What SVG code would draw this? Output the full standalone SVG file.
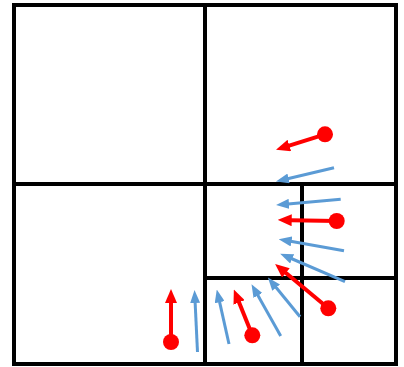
<svg xmlns="http://www.w3.org/2000/svg" width="404" height="367" viewBox="0 0 404 367">
<style>
.grid{fill:none;stroke:#000;stroke-width:4;stroke-linecap:square}
.r{stroke:#FF0000;stroke-width:4;fill:none;marker-end:url(#ahr)}
.b{stroke:#5B9BD5;stroke-width:3;fill:none;marker-end:url(#ahb)}
.dot{fill:#FF0000}
</style>
<defs>
<marker id="ahr" markerWidth="14" markerHeight="12" refX="1" refY="6" orient="auto" markerUnits="userSpaceOnUse"><path d="M0,0 L14,6 L0,12 z" fill="#FF0000"/></marker>
<marker id="ahb" markerWidth="13" markerHeight="10" refX="1" refY="5" orient="auto" markerUnits="userSpaceOnUse"><path d="M0,0 L13,5 L0,10 z" fill="#5B9BD5"/></marker>
</defs>
<rect width="404" height="367" fill="#fff"/>
<g id="grid">
<rect class="grid" x="14" y="5" width="382" height="359"/>
<line class="grid" x1="205" y1="5" x2="205" y2="364"/>
<line class="grid" x1="14" y1="184" x2="396" y2="184"/>
<line class="grid" x1="302" y1="184" x2="302" y2="364"/>
<line class="grid" x1="205" y1="278" x2="396" y2="278"/>
</g>
<g id="connectors">
<line class="r" x1="171" y1="342" x2="171" y2="302"/>
<line class="b" x1="197.5" y1="352" x2="195.1" y2="302"/>
<line class="b" x1="229" y1="344" x2="219.4" y2="301.2"/>
<line class="r" x1="252.3" y1="335.3" x2="238.7" y2="301.5"/>
<line class="b" x1="280.7" y1="336" x2="257.4" y2="294.6"/>
<line class="b" x1="300" y1="316.7" x2="275.5" y2="286.8"/>
<line class="r" x1="328.3" y1="308.3" x2="285.1" y2="272.3"/>
<line class="b" x1="345" y1="281.7" x2="291.2" y2="258.5"/>
<line class="b" x1="344" y1="250.7" x2="290.5" y2="241.3"/>
<line class="r" x1="336.7" y1="221" x2="290.7" y2="220.2"/>
<line class="b" x1="340.7" y1="199.3" x2="288" y2="203.9"/>
<line class="b" x1="334" y1="167.7" x2="287.6" y2="178.7"/>
<line class="r" x1="325" y1="134.3" x2="288.4" y2="145.8"/>
</g>
<g id="points">
<circle class="dot" cx="171" cy="342" r="8"/>
<circle class="dot" cx="252.3" cy="335.3" r="8"/>
<circle class="dot" cx="328.3" cy="308.3" r="8"/>
<circle class="dot" cx="336.7" cy="221" r="8"/>
<circle class="dot" cx="325" cy="134.3" r="8"/>
</g>
</svg>
